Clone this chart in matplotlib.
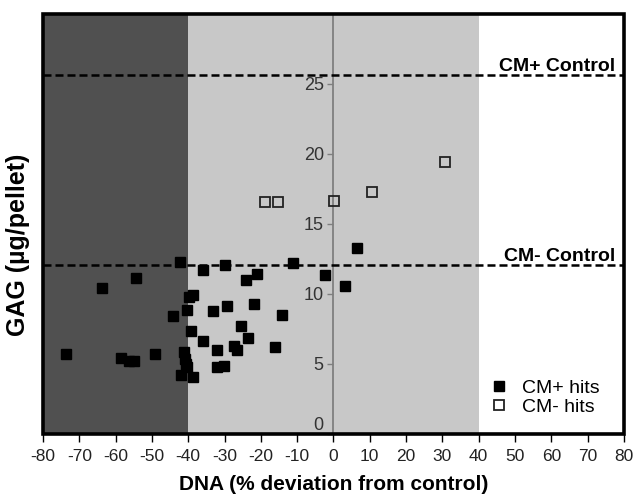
import matplotlib
matplotlib.use('Agg')
import matplotlib.pyplot as plt

plt.rcParams['font.family'] = ['Liberation Sans', 'DejaVu Sans']
plt.rcParams['axes.unicode_minus'] = False

# CM+ hits (filled squares)
cm_plus_x = [-42.4, -35.8, -30.0, -11.2, -54.5, -63.8, -21.1, -24.1, -2.3, -38.6,
             -39.8, -40.3, -33.3, -29.3, -21.9, -14.2, -44.1, -39.3, -25.4, -23.5,
             -35.8, -32.0, -27.3, -26.5, -16.1, -73.7, -58.5, -56.2, -54.8, -49.1,
             -41.3, -40.8, -40.6, -40.4, -42.1, -38.6, -32.1, -30.2, 3.1, 6.4]
cm_plus_y = [12.27, 11.68, 12.04, 12.2, 11.13, 10.45, 11.44, 11.02, 11.37, 9.95,
             9.78, 8.88, 8.78, 9.17, 9.31, 8.52, 8.43, 7.36, 7.69, 6.89,
             6.65, 5.98, 6.27, 6.03, 6.22, 5.70, 5.46, 5.22, 5.22, 5.70,
             5.86, 5.39, 5.03, 4.75, 4.20, 4.08, 4.79, 4.86, 10.54, 13.27]

# CM- hits (open squares)
cm_minus_x = [-18.9, -15.3, 0.2, 10.5, 30.6]
cm_minus_y = [16.55, 16.55, 16.64, 17.31, 19.44]

cm_plus_control = 25.64
cm_minus_control = 12.04

x_ticks = list(range(-80, 81, 10))
y_ticks = [0, 5, 10, 15, 20, 25]

fig = plt.figure(figsize=(6.34, 4.94), dpi=100)
ax = fig.add_axes([0.0678, 0.1215, 0.9164, 0.8502])
ax.set_xlim(-80, 80)
ax.set_ylim(0, 30)

# shaded bands
ax.axvspan(-80, -40, color='#505050', lw=0, zorder=0)
ax.axvspan(-40, 40, color='#c8c8c8', lw=0, zorder=0)

# control lines
for yv, name in [(cm_plus_control, 'CM+ Control'), (cm_minus_control, 'CM- Control')]:
    ax.axhline(yv, color='black', lw=1.8, dashes=(3.2, 1.6), zorder=2)
    ax.annotate(name, xy=(77.5, yv), xytext=(0, 3), textcoords='offset points',
                ha='right', va='baseline', fontsize=14, fontweight='bold')

ax.plot(cm_plus_x, cm_plus_y, 's', ms=7, color='black', ls='none',
        label='CM+ hits', zorder=4)
ax.plot(cm_minus_x, cm_minus_y, 's', ms=7, mfc='none', mec='#222222', mew=1.3,
        ls='none', label='CM- hits', zorder=4)

# y axis through x = 0
for s in ['top', 'right', 'bottom']:
    ax.spines[s].set_visible(False)
ax.spines['left'].set_position(('data', 0))
ax.spines['left'].set_color('#7f7f7f')
ax.spines['left'].set_linewidth(1.3)
ax.spines['left'].set_zorder(1)

frame = plt.Rectangle((0, 0), 1, 1, transform=ax.transAxes, fill=False,
                      ec='black', lw=2.6, clip_on=False, zorder=5)
ax.add_patch(frame)

ax.set_xticks(x_ticks)
ax.set_yticks(y_ticks)
ax.tick_params(axis='x', direction='out', length=6, width=1, color='black',
               labelsize=12.5, labelcolor='#222222', pad=5)
ax.tick_params(axis='y', direction='out', length=4, width=1, color='#7f7f7f',
               labelsize=13, labelcolor='#333333', pad=3)
ax.get_yticklabels()[0].set_verticalalignment('bottom')

ax.set_xlabel('DNA (% deviation from control)', fontsize=15, fontweight='bold',
              labelpad=8)
ax.set_ylabel('GAG (µg/pellet)', fontsize=18, fontweight='bold')
ax.yaxis.set_label_coords(-0.022, 0.45)

ax.legend(loc='lower right', bbox_to_anchor=(0.972, 0.025), borderaxespad=0,
          frameon=False, fontsize=14, handlelength=1.0, handletextpad=0.7,
          labelspacing=0.05, markerscale=1.1)

fig.savefig('out.png', dpi=100)
